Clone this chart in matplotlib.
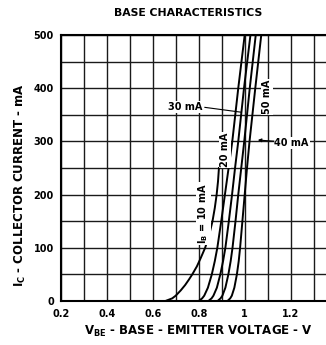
import matplotlib.pyplot as plt

# base current curves, I_C (mA) vs V_BE (V)
ic_10 = [0, 5, 10, 20, 30, 40, 50, 65, 80, 100, 125, 150, 175, 200, 225, 250]
vbe_10 = [0.655, 0.685, 0.70, 0.722, 0.741, 0.757, 0.772, 0.792, 0.808, 0.828,
          0.846, 0.86, 0.87, 0.878, 0.884, 0.888]

ic_hi = [0, 5, 10, 25, 50, 75, 100, 150, 200, 250, 300, 400, 500]
vbe_20 = [0.80, 0.815, 0.824, 0.84, 0.857, 0.87, 0.881, 0.898, 0.914, 0.93, 0.946, 0.972, 1.0]
vbe_30 = [0.842, 0.856, 0.864, 0.879, 0.894, 0.906, 0.916, 0.931, 0.945, 0.958, 0.972, 0.997, 1.025]
vbe_40 = [0.882, 0.895, 0.903, 0.916, 0.929, 0.939, 0.947, 0.96, 0.972, 0.985, 0.998, 1.022, 1.048]
vbe_50 = [0.925, 0.937, 0.944, 0.955, 0.966, 0.974, 0.98, 0.99, 1.0, 1.01, 1.021, 1.046, 1.072]

x_ticks = [0.2, 0.4, 0.6, 0.8, 1.0, 1.2, 1.4]
x_tick_labels = ['0.2', '0.4', '0.6', '0.8', '1', '1.2', '1.4']
y_ticks = [0, 100, 200, 300, 400, 500]

plt.rcParams['font.family'] = 'DejaVu Sans'

fig = plt.figure(figsize=(3.26, 3.45), dpi=100)
ax = fig.add_axes([0.1862, 0.1275, 0.8466, 0.771])

ax.set_xlim(0.2, 1.4)
ax.set_ylim(0, 500)
ax.set_xticks([0.2 + 0.1 * i for i in range(13)], minor=True)
ax.set_yticks(range(0, 501, 50), minor=True)
ax.set_xticks(x_ticks)
ax.set_xticklabels(x_tick_labels)
ax.set_yticks(y_ticks)
ax.grid(True, which='both', color='#1a1a1a', linewidth=1.0)
ax.set_axisbelow(True)
ax.tick_params(which='both', length=0)
ax.tick_params(axis='x', pad=6, labelsize=7)
ax.tick_params(axis='y', pad=5, labelsize=7)
for lbl in ax.get_xticklabels() + ax.get_yticklabels():
    lbl.set_fontweight('bold')
for spine in ax.spines.values():
    spine.set_linewidth(1.5)

ax.plot(vbe_10, ic_10, color='black', linewidth=1.4)
for vbe in [vbe_20, vbe_30, vbe_40, vbe_50]:
    ax.plot(vbe, ic_hi, color='black', linewidth=1.4)

box = dict(facecolor='white', edgecolor='none', pad=0.6)
note = dict(fontsize=7, fontweight='bold', ha='center', va='center', bbox=box)
ax.text(0.82, 165, '$\\mathbf{I_B}$ = 10 mA', rotation=90, **note)
ax.text(0.914, 284, '20 mA', rotation=90, **note)
ax.text(1.096, 384, '50 mA', rotation=90, **note)
ax.text(0.742, 365, '30 mA', **note)
ax.plot([0.827, 0.983], [364, 355], color='black', linewidth=0.8)
ax.text(1.204, 297, '40 mA', **note)
ax.annotate('', xy=(1.045, 303), xytext=(1.14, 300),
            arrowprops=dict(arrowstyle='-|>', color='black', lw=0.8,
                            mutation_scale=5))

ax.set_xlabel('$\\mathbf{V_{BE}}$ - BASE - EMITTER VOLTAGE - V',
              fontsize=8.5, fontweight='bold', labelpad=3)
ax.set_ylabel('$\\mathbf{I_C}$ - COLLECTOR CURRENT - mA',
              fontsize=8.5, fontweight='bold')
ax.yaxis.set_label_coords(-0.12, 0.435)

fig.text(188.5 / 326, 1 - 13 / 345, 'BASE CHARACTERISTICS', fontsize=7.8,
         fontweight='bold', ha='center', va='center')

fig.savefig('out.png', dpi=100)
